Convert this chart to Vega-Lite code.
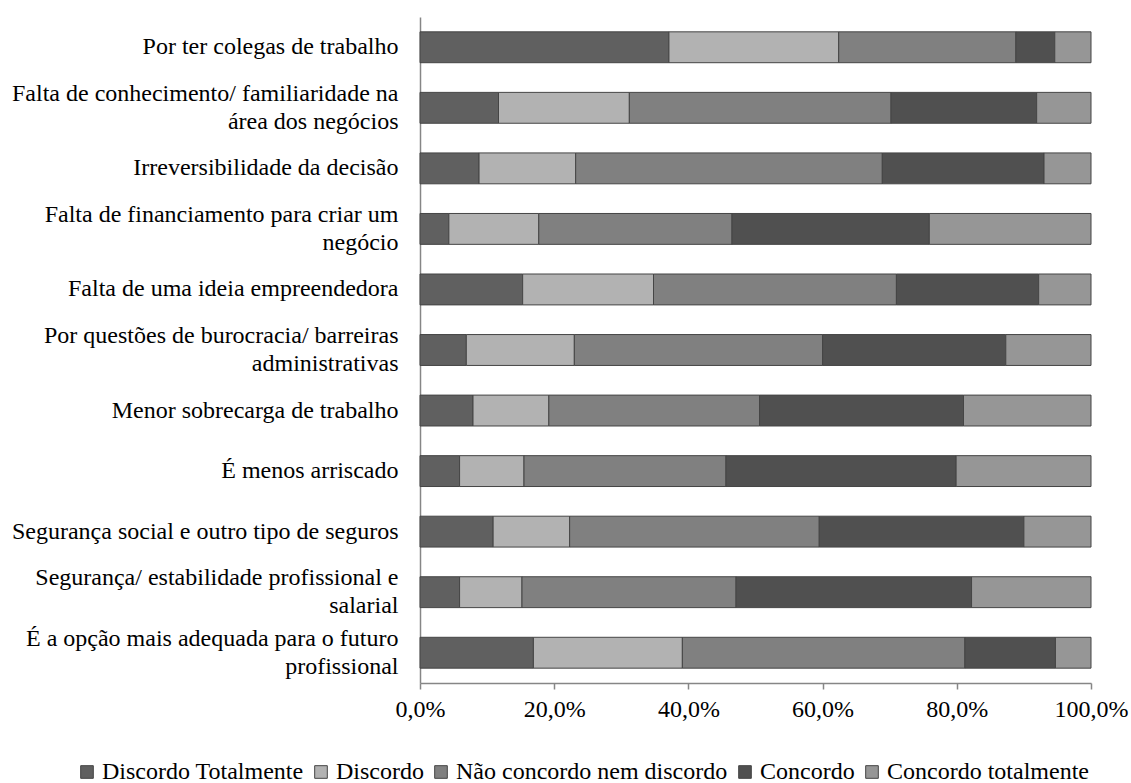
{
  "$schema": "https://vega.github.io/schema/vega-lite/v6.json",
  "autosize": {"type": "none"},
  "padding": {"left": 420, "top": 17, "right": 40, "bottom": 100},
  "width": 671,
  "height": 666,
  "background": "white",
  "config": {
    "font": "Liberation Serif",
    "view": {"stroke": null},
    "axis": {"labelFont": "Liberation Serif", "labelColor": "#000000", "labelFontSize": 24, "grid": false},
    "legend": {"labelFont": "Liberation Serif", "labelColor": "#000000", "labelFontSize": 24}
  },
  "data": {
    "values": [
      {"item": "Por ter colegas de trabalho", "resposta": "Discordo Totalmente", "nivel": 1, "pct": 0.371},
      {"item": "Por ter colegas de trabalho", "resposta": "Discordo", "nivel": 2, "pct": 0.253},
      {"item": "Por ter colegas de trabalho", "resposta": "Não concordo nem discordo", "nivel": 3, "pct": 0.264},
      {"item": "Por ter colegas de trabalho", "resposta": "Concordo", "nivel": 4, "pct": 0.058},
      {"item": "Por ter colegas de trabalho", "resposta": "Concordo totalmente", "nivel": 5, "pct": 0.054},
      {"item": "Falta de conhecimento/ familiaridade na área dos negócios", "resposta": "Discordo Totalmente", "nivel": 1, "pct": 0.117},
      {"item": "Falta de conhecimento/ familiaridade na área dos negócios", "resposta": "Discordo", "nivel": 2, "pct": 0.195},
      {"item": "Falta de conhecimento/ familiaridade na área dos negócios", "resposta": "Não concordo nem discordo", "nivel": 3, "pct": 0.390},
      {"item": "Falta de conhecimento/ familiaridade na área dos negócios", "resposta": "Concordo", "nivel": 4, "pct": 0.217},
      {"item": "Falta de conhecimento/ familiaridade na área dos negócios", "resposta": "Concordo totalmente", "nivel": 5, "pct": 0.081},
      {"item": "Irreversibilidade da decisão", "resposta": "Discordo Totalmente", "nivel": 1, "pct": 0.088},
      {"item": "Irreversibilidade da decisão", "resposta": "Discordo", "nivel": 2, "pct": 0.144},
      {"item": "Irreversibilidade da decisão", "resposta": "Não concordo nem discordo", "nivel": 3, "pct": 0.457},
      {"item": "Irreversibilidade da decisão", "resposta": "Concordo", "nivel": 4, "pct": 0.241},
      {"item": "Irreversibilidade da decisão", "resposta": "Concordo totalmente", "nivel": 5, "pct": 0.070},
      {"item": "Falta de financiamento para criar um negócio", "resposta": "Discordo Totalmente", "nivel": 1, "pct": 0.043},
      {"item": "Falta de financiamento para criar um negócio", "resposta": "Discordo", "nivel": 2, "pct": 0.134},
      {"item": "Falta de financiamento para criar um negócio", "resposta": "Não concordo nem discordo", "nivel": 3, "pct": 0.288},
      {"item": "Falta de financiamento para criar um negócio", "resposta": "Concordo", "nivel": 4, "pct": 0.294},
      {"item": "Falta de financiamento para criar um negócio", "resposta": "Concordo totalmente", "nivel": 5, "pct": 0.241},
      {"item": "Falta de uma ideia empreendedora", "resposta": "Discordo Totalmente", "nivel": 1, "pct": 0.153},
      {"item": "Falta de uma ideia empreendedora", "resposta": "Discordo", "nivel": 2, "pct": 0.195},
      {"item": "Falta de uma ideia empreendedora", "resposta": "Não concordo nem discordo", "nivel": 3, "pct": 0.362},
      {"item": "Falta de uma ideia empreendedora", "resposta": "Concordo", "nivel": 4, "pct": 0.212},
      {"item": "Falta de uma ideia empreendedora", "resposta": "Concordo totalmente", "nivel": 5, "pct": 0.078},
      {"item": "Por questões de burocracia/ barreiras administrativas", "resposta": "Discordo Totalmente", "nivel": 1, "pct": 0.069},
      {"item": "Por questões de burocracia/ barreiras administrativas", "resposta": "Discordo", "nivel": 2, "pct": 0.161},
      {"item": "Por questões de burocracia/ barreiras administrativas", "resposta": "Não concordo nem discordo", "nivel": 3, "pct": 0.370},
      {"item": "Por questões de burocracia/ barreiras administrativas", "resposta": "Concordo", "nivel": 4, "pct": 0.273},
      {"item": "Por questões de burocracia/ barreiras administrativas", "resposta": "Concordo totalmente", "nivel": 5, "pct": 0.127},
      {"item": "Menor sobrecarga de trabalho", "resposta": "Discordo Totalmente", "nivel": 1, "pct": 0.079},
      {"item": "Menor sobrecarga de trabalho", "resposta": "Discordo", "nivel": 2, "pct": 0.113},
      {"item": "Menor sobrecarga de trabalho", "resposta": "Não concordo nem discordo", "nivel": 3, "pct": 0.314},
      {"item": "Menor sobrecarga de trabalho", "resposta": "Concordo", "nivel": 4, "pct": 0.304},
      {"item": "Menor sobrecarga de trabalho", "resposta": "Concordo totalmente", "nivel": 5, "pct": 0.190},
      {"item": "É menos arriscado", "resposta": "Discordo Totalmente", "nivel": 1, "pct": 0.059},
      {"item": "É menos arriscado", "resposta": "Discordo", "nivel": 2, "pct": 0.096},
      {"item": "É menos arriscado", "resposta": "Não concordo nem discordo", "nivel": 3, "pct": 0.301},
      {"item": "É menos arriscado", "resposta": "Concordo", "nivel": 4, "pct": 0.343},
      {"item": "É menos arriscado", "resposta": "Concordo totalmente", "nivel": 5, "pct": 0.201},
      {"item": "Segurança social e outro tipo de seguros", "resposta": "Discordo Totalmente", "nivel": 1, "pct": 0.109},
      {"item": "Segurança social e outro tipo de seguros", "resposta": "Discordo", "nivel": 2, "pct": 0.114},
      {"item": "Segurança social e outro tipo de seguros", "resposta": "Não concordo nem discordo", "nivel": 3, "pct": 0.372},
      {"item": "Segurança social e outro tipo de seguros", "resposta": "Concordo", "nivel": 4, "pct": 0.305},
      {"item": "Segurança social e outro tipo de seguros", "resposta": "Concordo totalmente", "nivel": 5, "pct": 0.100},
      {"item": "Segurança/ estabilidade profissional e salarial", "resposta": "Discordo Totalmente", "nivel": 1, "pct": 0.059},
      {"item": "Segurança/ estabilidade profissional e salarial", "resposta": "Discordo", "nivel": 2, "pct": 0.093},
      {"item": "Segurança/ estabilidade profissional e salarial", "resposta": "Não concordo nem discordo", "nivel": 3, "pct": 0.319},
      {"item": "Segurança/ estabilidade profissional e salarial", "resposta": "Concordo", "nivel": 4, "pct": 0.351},
      {"item": "Segurança/ estabilidade profissional e salarial", "resposta": "Concordo totalmente", "nivel": 5, "pct": 0.178},
      {"item": "É a opção mais adequada para o futuro profissional", "resposta": "Discordo Totalmente", "nivel": 1, "pct": 0.169},
      {"item": "É a opção mais adequada para o futuro profissional", "resposta": "Discordo", "nivel": 2, "pct": 0.222},
      {"item": "É a opção mais adequada para o futuro profissional", "resposta": "Não concordo nem discordo", "nivel": 3, "pct": 0.421},
      {"item": "É a opção mais adequada para o futuro profissional", "resposta": "Concordo", "nivel": 4, "pct": 0.135},
      {"item": "É a opção mais adequada para o futuro profissional", "resposta": "Concordo totalmente", "nivel": 5, "pct": 0.053}
    ]
  },
  "mark": {"type": "bar", "stroke": "#454545", "strokeWidth": 1},
  "encoding": {
    "y": {
      "field": "item",
      "type": "nominal",
      "sort": null,
      "title": null,
      "scale": {"paddingInner": 0.49, "paddingOuter": 0.245},
      "axis": {
        "ticks": false,
        "domainColor": "#868686",
        "domainWidth": 1.5,
        "labelPadding": 22,
        "labelLimit": 420,
        "labelLineHeight": 28,
        "labelOffset": {"condition": {"test": "length(datum.value) > 42", "value": -14}, "value": 0},
        "labelExpr": "datum.value == 'Falta de conhecimento/ familiaridade na área dos negócios' ? ['Falta de conhecimento/ familiaridade na', 'área dos negócios'] : datum.value == 'Falta de financiamento para criar um negócio' ? ['Falta de financiamento para criar um', 'negócio'] : datum.value == 'Por questões de burocracia/ barreiras administrativas' ? ['Por questões de burocracia/ barreiras', 'administrativas'] : datum.value == 'Segurança/ estabilidade profissional e salarial' ? ['Segurança/ estabilidade profissional e', 'salarial'] : datum.value == 'É a opção mais adequada para o futuro profissional' ? ['É a opção mais adequada para o futuro', 'profissional'] : datum.value"
      }
    },
    "x": {
      "field": "pct",
      "type": "quantitative",
      "stack": "zero",
      "title": null,
      "scale": {"domain": [0, 1], "nice": false},
      "axis": {
        "values": [0, 0.2, 0.4, 0.6, 0.8, 1],
        "labelExpr": "replace(format(datum.value, '.1%'), '.', ',')",
        "domainColor": "#868686",
        "domainWidth": 1.5,
        "tickColor": "#868686",
        "tickSize": 6,
        "tickWidth": 1.5,
        "labelPadding": 8,
        "labelFlush": false
      }
    },
    "order": {"field": "nivel", "type": "quantitative", "sort": "ascending"},
    "color": {
      "field": "resposta",
      "type": "nominal",
      "sort": ["Discordo Totalmente", "Discordo", "Não concordo nem discordo", "Concordo", "Concordo totalmente"],
      "scale": {
        "domain": ["Discordo Totalmente", "Discordo", "Não concordo nem discordo", "Concordo", "Concordo totalmente"],
        "range": ["#606060", "#b2b2b2", "#808080", "#505050", "#969696"]
      },
      "legend": {
        "title": null,
        "orient": "none",
        "direction": "horizontal",
        "legendX": -345,
        "legendY": 743,
        "padding": 0,
        "symbolType": "square",
        "symbolSize": 160,
        "symbolStrokeColor": "#454545",
        "symbolStrokeWidth": 1,
        "symbolOpacity": 1,
        "labelOffset": 3,
        "labelLimit": 0,
        "columnPadding": 5
      }
    }
  }
}
